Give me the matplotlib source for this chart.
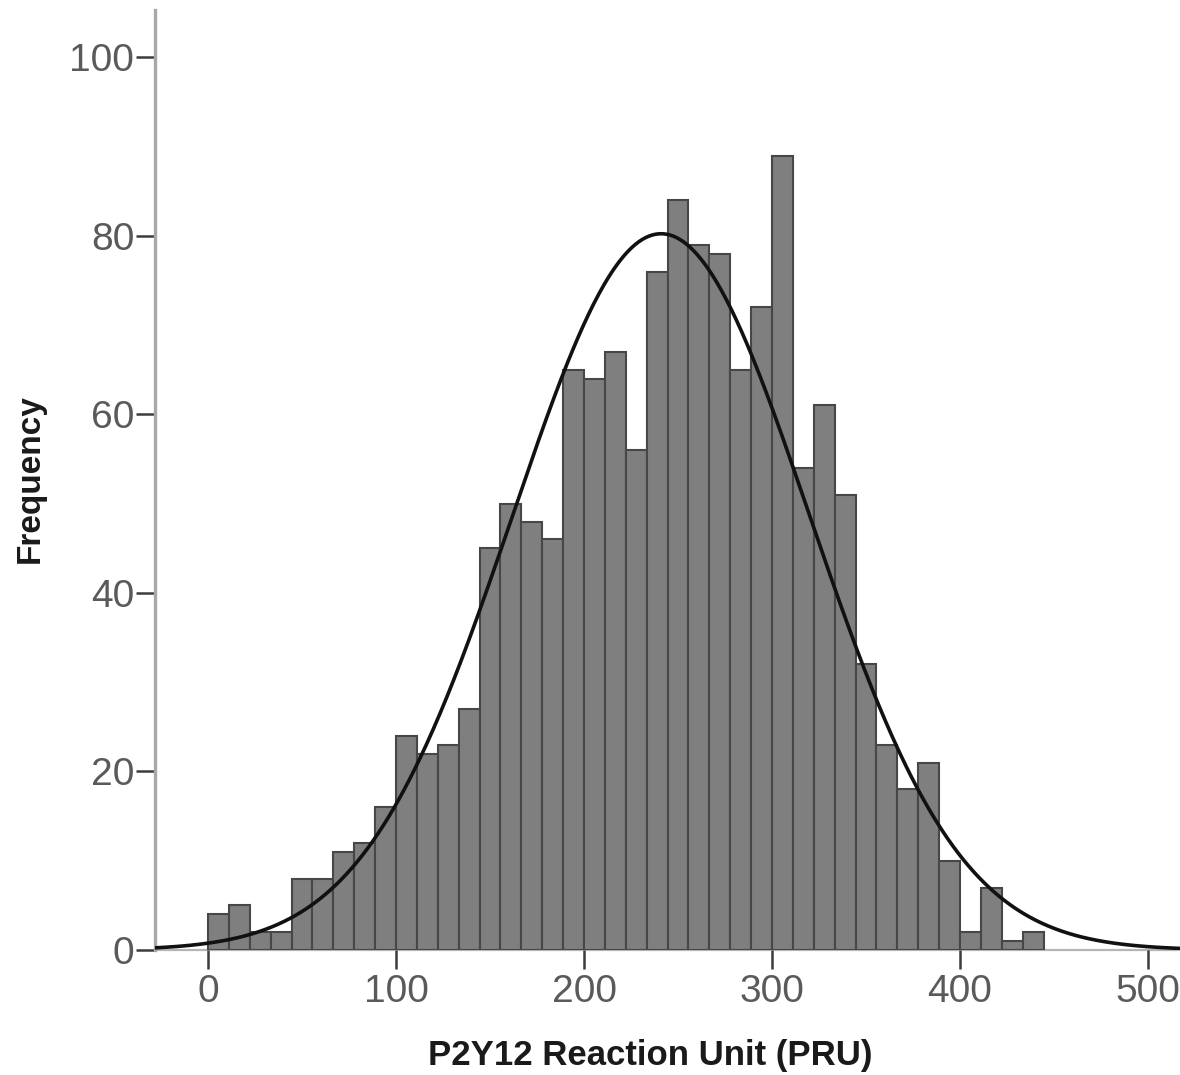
import numpy as np
import matplotlib
matplotlib.use("Agg")
import matplotlib.pyplot as plt

#histogram data (40 bins, width 100/9 PRU, starting at 0)
bin_width = 100 / 9
bin_start = 0
counts = [4, 5, 2, 2, 8, 8, 11, 12, 16, 24,
          22, 23, 27, 45, 50, 48, 46, 65, 64, 67,
          56, 76, 84, 79, 78, 65, 72, 89, 54, 61,
          51, 32, 23, 18, 21, 10, 2, 7, 1, 2]

#normal curve parameters
curve_mean = 241
curve_sd = 79

x_ticks = [0, 100, 200, 300, 400, 500]
y_ticks = [0, 20, 40, 60, 80, 100]

#colours
BAR_FILL = "#7f7f7f"
BAR_EDGE = "#474747"
TICK_TEXT = "#5a5a5a"
SPINE_GREY = "#a8a8a8"

plt.rcParams["font.family"] = ["Liberation Sans", "DejaVu Sans"]

fig = plt.figure(figsize=(11.8, 10.75), dpi=100)
ax = fig.add_axes([155 / 1180, 1 - 950 / 1075, 1025 / 1180, 940 / 1075])

edges = bin_start + bin_width * np.arange(len(counts))
ax.bar(edges, counts, width=bin_width, align="edge",
       color=BAR_FILL, edgecolor=BAR_EDGE, linewidth=1.5, zorder=2)

#fitted normal curve scaled to counts
n_total = sum(counts)
xs = np.linspace(-30, 520, 600)
ys = n_total * bin_width / (curve_sd * np.sqrt(2 * np.pi)) * np.exp(-0.5 * ((xs - curve_mean) / curve_sd) ** 2)
ax.plot(xs, ys, color="#111111", linewidth=2.6, zorder=3, solid_capstyle="round")

ax.set_xlim(-28.2, 517)
ax.set_ylim(0, 105.3)
ax.set_xticks(x_ticks)
ax.set_yticks(y_ticks)

#spines
for side in ["top", "right"]:
    ax.spines[side].set_visible(False)
ax.spines["left"].set_color(SPINE_GREY)
ax.spines["left"].set_linewidth(2.4)
ax.spines["bottom"].set_color("#b5b5b5")
ax.spines["bottom"].set_linewidth(1.6)
ax.spines["bottom"].set_zorder(1)

ax.tick_params(axis="both", direction="out", length=14, width=1.8,
               color="#3c3c3c", labelcolor=TICK_TEXT, labelsize=28)
ax.tick_params(axis="y", pad=1)
ax.tick_params(axis="x", pad=3)

#axis labels
fig.text(30 / 1180, 1 - 479 / 1075, "Frequency", rotation=90, fontsize=24,
         fontweight="bold", color="#1a1a1a", ha="center", va="center")
fig.text(650 / 1180, 1 - 1055 / 1075, "P2Y12 Reaction Unit (PRU)", fontsize=25,
         fontweight="bold", color="#1a1a1a", ha="center", va="center")

fig.savefig("out.png", dpi=100)
